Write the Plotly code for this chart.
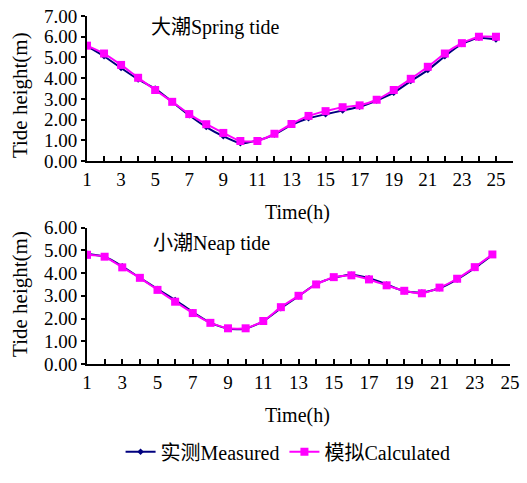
import plotly.graph_objects as go

hours_spring = list(range(1, 26))
spring_measured = [5.55, 5.06, 4.49, 3.94, 3.50, 2.86, 2.21, 1.64, 1.20, 0.86, 1.00, 1.28, 1.75, 2.07, 2.26, 2.44, 2.62, 2.92, 3.30, 3.86, 4.39, 5.06, 5.65, 5.95, 5.87]
spring_calculated = [5.57, 5.19, 4.64, 4.02, 3.43, 2.86, 2.27, 1.78, 1.36, 0.97, 0.97, 1.32, 1.79, 2.18, 2.41, 2.60, 2.69, 2.96, 3.43, 3.97, 4.55, 5.19, 5.69, 6.00, 6.00]

hours_neap = list(range(1, 25))
neap_measured = [4.85, 4.72, 4.30, 3.79, 3.30, 2.82, 2.28, 1.81, 1.55, 1.55, 1.88, 2.45, 2.98, 3.52, 3.80, 3.92, 3.77, 3.50, 3.20, 3.14, 3.33, 3.72, 4.22, 4.80]
neap_calculated = [4.80, 4.72, 4.25, 3.79, 3.26, 2.74, 2.24, 1.81, 1.57, 1.57, 1.89, 2.50, 3.00, 3.50, 3.82, 3.90, 3.72, 3.46, 3.22, 3.11, 3.36, 3.75, 4.26, 4.82]

x_ticks = list(range(1, 26, 2))
y_ticks_spring = [0, 1, 2, 3, 4, 5, 6, 7]
y_ticks_neap = [0, 1, 2, 3, 4, 5, 6]

SERIF = "Liberation Serif, Times New Roman, Noto Sans CJK SC, serif"
NAVY = "#00007F"
MAGENTA = "#FF00FF"

fig = go.Figure()

def add_pair(xs, meas, calc, xa, ya, show):
    fig.add_trace(go.Scatter(
        x=xs, y=meas, mode="lines+markers", name="实测Measured",
        line=dict(color=NAVY, width=2, shape="spline", smoothing=0.5),
        marker=dict(symbol="diamond", size=5, color=NAVY),
        xaxis=xa, yaxis=ya, showlegend=show))
    fig.add_trace(go.Scatter(
        x=xs, y=calc, mode="lines+markers", name="模拟Calculated",
        line=dict(color=MAGENTA, width=2, shape="spline", smoothing=0.5),
        marker=dict(symbol="square", size=8, color=MAGENTA),
        xaxis=xa, yaxis=ya, showlegend=show))

add_pair(hours_spring, spring_measured, spring_calculated, "x", "y", True)
add_pair(hours_neap, neap_measured, neap_calculated, "x2", "y2", False)

xcommon = dict(
    automargin=False,
    showline=True, linecolor="black", linewidth=2, showgrid=False, zeroline=False,
    tickvals=x_ticks, ticktext=[str(v) for v in x_ticks],
    ticks="inside", ticklen=5, tickwidth=1.5, tickcolor="black",
    minor=dict(dtick=1, tick0=0, ticks="inside", ticklen=5, tickwidth=1.5, tickcolor="black"),
    tickfont=dict(family=SERIF, size=19, color="black"),
)
ycommon = dict(
    automargin=False,
    showline=True, linecolor="black", linewidth=2, showgrid=False, zeroline=False,
    ticks="outside", ticklen=4, tickwidth=1.5, tickcolor="black", tickformat=".2f",
    tickfont=dict(family=SERIF, size=19, color="black"),
)

def txt(text, x, y, size=19, angle=0, xanchor="center"):
    return dict(text=text, x=x, y=y, xref="paper", yref="paper", xanchor=xanchor,
                yanchor="middle", showarrow=False, textangle=angle,
                font=dict(family=SERIF, size=size, color="black"))

fig.update_layout(
    width=527, height=483,
    margin=dict(l=87, r=14, t=16, b=110),
    paper_bgcolor="white", plot_bgcolor="white",
    xaxis=dict(xcommon, domain=[0, 1], range=[1, 26], anchor="y"),
    yaxis=dict(ycommon, domain=[0.583, 1], range=[0, 7], tickvals=y_ticks_spring, anchor="x"),
    xaxis2=dict(xcommon, domain=[0, 0.993], range=[1, 25], anchor="y2"),
    yaxis2=dict(ycommon, domain=[0, 0.392], range=[0, 6], tickvals=y_ticks_neap, anchor="x2"),
    legend=dict(orientation="h", x=0.472, xanchor="center", y=-0.252, yanchor="middle",
                font=dict(family=SERIF, size=20, color="black"), itemwidth=30,
                traceorder="normal"),
    annotations=[
        txt("大潮Spring tide", 0.146, 0.966, size=20, xanchor="left"),
        txt("小潮Neap tide", 0.151, 0.345, size=20, xanchor="left"),
        txt("Time(h)", 0.493, 0.434, size=20),
        txt("Time(h)", 0.493, -0.148, size=20),
        txt("Tide height(m)", -0.157, 0.773, size=21, angle=-90),
        txt("Tide height(m)", -0.157, 0.2017, size=21, angle=-90),
    ],
)

# remove the page's default body margin so the figure sits at the window origin
fig.write_html("out.html", config={"displayModeBar": False},
               post_script="document.body.style.margin='0';")
